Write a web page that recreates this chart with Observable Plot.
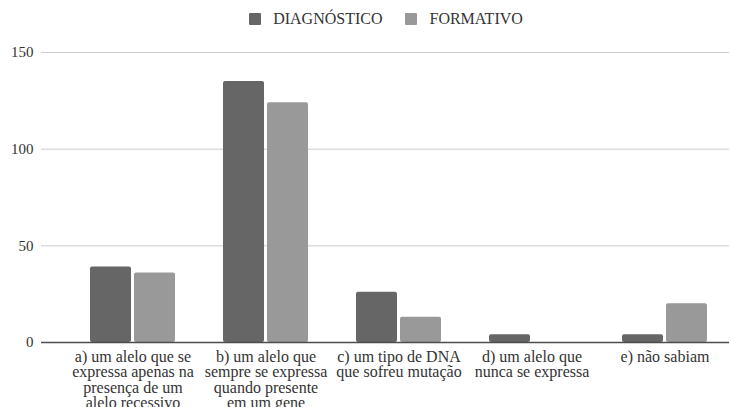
<!DOCTYPE html>
<html>
<head>
<meta charset="utf-8">
<script src="https://cdn.jsdelivr.net/npm/d3@7"></script>
<script src="https://cdn.jsdelivr.net/npm/@observablehq/plot@0.6"></script>
<style>
  html, body { margin: 0; padding: 0; background: #fff; overflow: hidden; }
  body { width: 731px; height: 407px; font-family: "Liberation Serif", "Liberation Sans", sans-serif; }
  #legend {
    height: 37px; box-sizing: border-box; padding-left: 41px;
    display: flex; justify-content: center; align-items: center; gap: 23px;
    font-size: 16px; color: #333;
  }
  #legend .item { display: flex; align-items: center; gap: 12px; }
  #legend .swatch { width: 12px; height: 12px; border-radius: 1px; }
  #chart svg text { font-family: "Liberation Serif", "Liberation Sans", sans-serif; }
</style>
</head>
<body>
<div id="legend"></div>
<div id="chart"></div>
<script>
// Answer categories (line breaks are the wrapped axis labels)
const categories = [
  "a) um alelo que se\nexpressa apenas na\npresença de um\nalelo recessivo",
  "b) um alelo que\nsempre se expressa\nquando presente\nem um gene",
  "c) um tipo de DNA\nque sofreu mutação",
  "d) um alelo que\nnunca se expressa",
  "e) não sabiam"
];
const series = ["DIAGNÓSTICO", "FORMATIVO"];
const diagnostico = [39, 135, 26, 4, 4];
const formativo = [36, 124, 13, 0, 20];
const colors = ["#666666", "#999999"];
const yTicks = [0, 50, 100, 150];

const rowsFor = (values, name) => categories.map((c, i) => ({category: c, series: name, value: values[i]}));
const diagRows = rowsFor(diagnostico, series[0]);
const formRows = rowsFor(formativo, series[1]);

// Legend
const legend = d3.select("#legend");
series.forEach((s, i) => {
  const item = legend.append("div").attr("class", "item");
  item.append("div").attr("class", "swatch").style("background", colors[i]);
  item.append("span").text(s);
});

const chart = Plot.plot({
  width: 731,
  height: 370,
  marginTop: 15,
  marginBottom: 65,
  marginLeft: 41,
  marginRight: 2,
  style: {fontSize: "15px", color: "#333", overflow: "visible", background: "#fff"},
  x: {domain: categories, range: [66, 731], paddingInner: 0.36, paddingOuter: 0.18, label: null},
  y: {domain: [0, 150], label: null},
  color: {domain: series, range: colors},
  marks: [
    Plot.gridY(yTicks, {stroke: "#cccccc", strokeOpacity: 1, strokeWidth: 1}),
    Plot.barY(diagRows, {x: "category", y: "value", fill: "series", insetRight: 44, rx: 2}),
    Plot.barY(formRows, {x: "category", y: "value", fill: "series", insetLeft: 44, rx: 2}),
    Plot.ruleY([0], {stroke: "#4d4d4d", strokeWidth: 1.4}),
    Plot.axisY({ticks: yTicks, tickSize: 0, tickPadding: 8, fontSize: 15, label: null}),
    Plot.axisX({tickSize: 0, tickPadding: 8, fontSize: 16, lineHeight: 0.97, label: null, tickFormat: d => d})
  ]
});
document.getElementById("chart").appendChild(chart);
</script>
</body>
</html>
